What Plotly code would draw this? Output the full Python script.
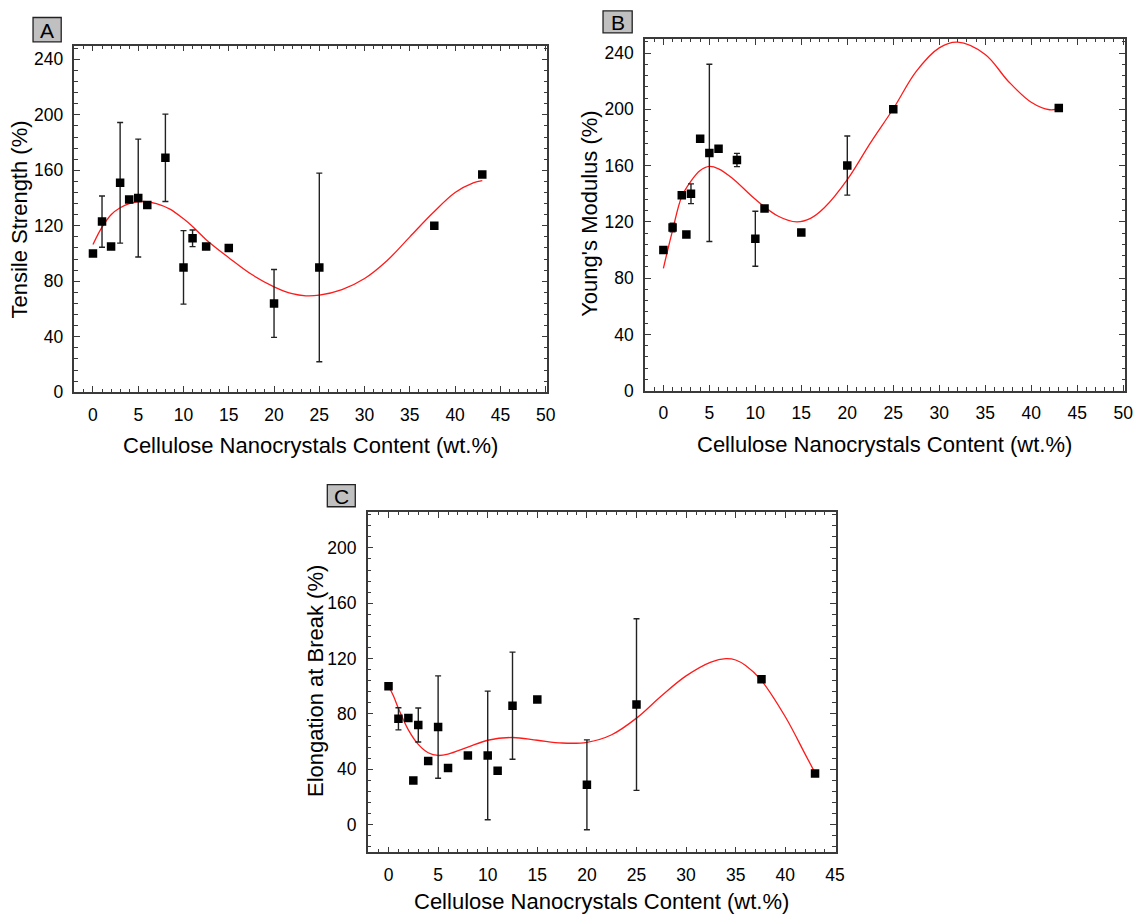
import plotly.graph_objects as go

W, H = 1146, 920

# ---------------- data ----------------
# Panel A: Tensile strength
a_x = [0, 1, 2, 3, 4, 5, 6, 8, 10, 11, 12.5, 15, 20, 25, 37.7, 43]
a_y = [100, 123, 105, 151, 139, 140, 135, 169, 90, 111, 105, 104, 64, 90, 120, 157]
a_err = [None, 18.5, None, 43.5, None, 42.5, None, 31.5, 26.5, 6, None, None, 24.5, 68, None, None]
fa_x = [0, 1, 2, 3, 4, 5.5, 7, 8.5, 10, 11, 12.5, 15, 17.5, 20, 22, 23.5, 25, 27.5, 30, 32.5, 35, 37.5, 40, 42, 43]
fa_y = [106.5, 119, 128, 133, 136, 137.5, 136, 132, 125, 119.5, 110, 97, 85, 76, 71, 69.5, 70, 74, 82, 95, 112, 129, 144, 151, 152.6]

# Panel B: Young's modulus
b_x = [0, 1, 2, 2.5, 3, 4, 5, 6, 8, 10, 11, 15, 20, 25, 43]
b_y = [100, 116, 139, 111, 140, 179, 169, 172, 164, 108, 129.5, 112.5, 160, 200, 201]
b_err = [None, 3, None, None, 7, None, 63, None, 4.7, 19.5, None, None, 21, None, None]
fb_x = [0, 1, 2, 3, 4, 5, 6, 7.5, 10, 12.5, 14.5, 16, 17.5, 20, 22.5, 25, 27.5, 30, 32, 35, 37.5, 40, 42, 43]
fb_y = [87, 114, 138, 149, 156.5, 159.4, 157.7, 151, 136, 124, 120, 122.5, 130, 150, 176, 200.4, 227, 243.7, 247.7, 239, 220, 205, 199.7, 200.4]

# Panel C: Elongation at break
c_x = [0, 1, 2, 2.5, 3, 4, 5, 6, 8, 10, 11, 12.5, 15, 20, 25, 37.6, 43]
c_y = [100, 76.5, 77, 32, 72, 46, 70.5, 41, 50, 50, 39, 86, 90.5, 28.8, 86.8, 105, 37]
c_err = [None, 8, None, None, 12.3, None, 37, None, None, 46.5, None, 38.7, None, 32.5, 62, None, None]
fc_x = [0, 0.5, 1, 2, 3, 4, 5, 6, 8, 10, 12.5, 15, 17.5, 20, 22.5, 25, 27.5, 30, 32.5, 34, 35, 36, 37.5, 40, 42, 43]
fc_y = [100, 93, 84, 68.5, 58, 52, 50, 51, 56, 61, 63, 61, 59, 59.5, 65, 77, 93, 107.5, 117.5, 120, 119, 115, 105, 78, 51, 37.4]

x_title = "Cellulose Nanocrystals Content (wt.%)"
y_titles = ["Tensile Strength (%)", "Young's Modulus (%)", "Elongation at Break (%)"]
panel_letters = ["A", "B", "C"]

# ---------------- layout helpers ----------------
FONT = "Liberation Sans, Arial, sans-serif"

def px_x(x):
    return x / W

def px_y(y):
    return 1 - y / H

# plot frames in pixels: (left, top, right, bottom)
frames = [(75, 46, 551.8, 396.5), (650.1, 39.4, 1133.9, 395), (370.6, 517.7, 842.3, 861.7)]
xranges = [[-2.05, 50.2], [-2.0, 50.2], [-2.1, 45.08]]
yranges = [[0, 250], [0, 250], [-20, 225.9]]

fig = go.Figure()

panels = [
    (a_x, a_y, a_err, fa_x, fa_y),
    (b_x, b_y, b_err, fb_x, fb_y),
    (c_x, c_y, c_err, fc_x, fc_y),
]

for i, (px_, py_, pe, fx, fy) in enumerate(panels):
    xa = "x" if i == 0 else f"x{i+1}"
    ya = "y" if i == 0 else f"y{i+1}"
    fig.add_trace(go.Scatter(x=fx, y=fy, mode="lines", line=dict(color="#ff1a1a", width=1.3, shape="spline"),
                             xaxis=xa, yaxis=ya, showlegend=False, hoverinfo="skip"))
    fig.add_trace(go.Scatter(x=px_, y=py_, mode="markers",
                             marker=dict(symbol="square", size=8.5, color="black"),
                             error_y=dict(type="data", array=pe, visible=True, color="#222222", thickness=1.4, width=3),
                             xaxis=xa, yaxis=ya, showlegend=False))

axis_line = "#3a3a3a"
tickfont = dict(family=FONT, size=17.5, color="black")

def common(rng, dtick, mdtick):
    return dict(range=rng, showline=True, linecolor=axis_line, linewidth=1.5, mirror="ticks",
                ticks="inside", ticklen=6, tickwidth=1.3, tickcolor=axis_line,
                tick0=0, dtick=dtick,
                minor=dict(ticks="inside", ticklen=3.5, tickwidth=1.1, tickcolor=axis_line, tick0=0, dtick=mdtick),
                showgrid=False, zeroline=False, tickfont=tickfont, fixedrange=True)

layout_axes = {}
for i, (l, t, r, b) in enumerate(frames):
    xk = "xaxis" if i == 0 else f"xaxis{i+1}"
    yk = "yaxis" if i == 0 else f"yaxis{i+1}"
    xa = common(xranges[i], 5, 1)
    xa.update(domain=[px_x(l), px_x(r)], anchor="y" if i == 0 else f"y{i+1}", ticklabelstandoff=6)
    ya = common(yranges[i], 40, 8)
    ya.update(domain=[px_y(b), px_y(t)], anchor="x" if i == 0 else f"x{i+1}", ticklabelstandoff=6)
    layout_axes[xk] = xa
    layout_axes[yk] = ya

annotations = []
shapes = []
# axis titles
xt_pos = [(313.4, 450.5), (892, 449), (606.5, 911)]
yt_pos = [(19.6, 221.5), (594.8, 216), (318, 689)]
for i in range(3):
    annotations.append(dict(text=x_title, x=px_x(xt_pos[i][0]), y=px_y(xt_pos[i][1]), xref="paper", yref="paper",
                            showarrow=False, xanchor="center", yanchor="middle",
                            font=dict(family=FONT, size=22, color="black")))
    annotations.append(dict(text=y_titles[i], x=px_x(yt_pos[i][0]), y=px_y(yt_pos[i][1]), xref="paper", yref="paper",
                            showarrow=False, xanchor="center", yanchor="middle", textangle=-90,
                            font=dict(family=FONT, size=22, color="black")))

# panel letter boxes
boxes = [(33.3, 17.7, 61.7, 42.3), (607.8, 11, 637.2, 33.3), (329.9, 490, 358.1, 512.3)]
for i, (l, t, r, b) in enumerate(boxes):
    shapes.append(dict(type="rect", xref="paper", yref="paper", x0=px_x(l), x1=px_x(r), y0=px_y(b), y1=px_y(t),
                       fillcolor="#c0c0c0", line=dict(color="#222222", width=1.3), layer="above"))
    annotations.append(dict(text=panel_letters[i], x=px_x((l + r) / 2), y=px_y((t + b) / 2 + 0.5), xref="paper", yref="paper",
                            showarrow=False, xanchor="center", yanchor="middle",
                            font=dict(family=FONT, size=21, color="black")))

fig.update_layout(width=W, height=H, margin=dict(l=0, r=0, t=0, b=0),
                  paper_bgcolor="white", plot_bgcolor="white",
                  annotations=annotations, shapes=shapes, **layout_axes)

fig.write_html("out.html")
